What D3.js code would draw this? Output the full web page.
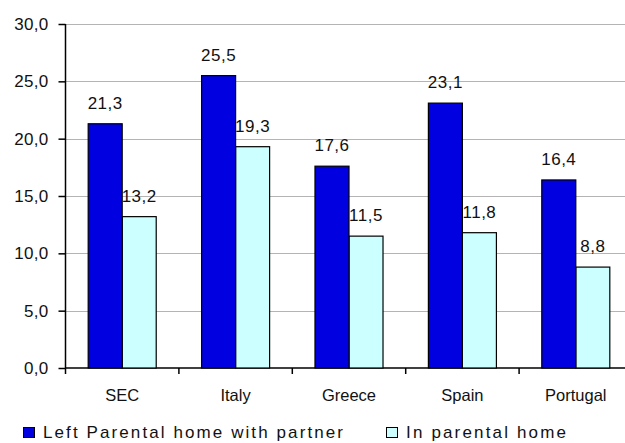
<!DOCTYPE html>
<html>
<head>
<meta charset="utf-8">
<script src="https://cdn.jsdelivr.net/npm/d3@7"></script>
<style>
  html, body { margin: 0; padding: 0; background: #fff; }
  svg { display: block; font-family: "Liberation Sans", Arial, sans-serif; }
</style>
</head>
<body>
<svg id="chart" width="625" height="443"></svg>
<script>
// Categories and the two series
const categories = ["SEC", "Italy", "Greece", "Spain", "Portugal"];
const leftWithPartner = [21.3, 25.5, 17.6, 23.1, 16.4];
const inParentalHome = [13.2, 19.3, 11.5, 11.8, 8.8];
const seriesNames = ["Left Parental home with partner", "In parental home"];
const seriesColors = ["#0000e0", "#ccffff"];
const yTickValues = [0, 5, 10, 15, 20, 25, 30];

const locale = d3.formatLocale({ decimal: ",", thousands: ".", grouping: [3], currency: ["", "€"] });
const fmt = locale.format(".1f");

const svg = d3.select("#chart");
const plot = { left: 65.5, right: 632.5, top: 24, bottom: 368 };

const x0 = d3.scaleBand().domain(categories).range([plot.left, plot.right]).paddingInner(0).paddingOuter(0);
const x1 = d3.scaleBand().domain([0, 1]).range([0, x0.bandwidth()]).paddingInner(0).paddingOuter(0.667);
const y = d3.scaleLinear().domain([0, 30]).range([plot.bottom, plot.top]);

// Gridlines
svg.append("g").selectAll("line").data(yTickValues.filter(v => v > 0)).join("line")
  .attr("x1", plot.left).attr("x2", 625)
  .attr("y1", d => Math.round(y(d)) + 0.5).attr("y2", d => Math.round(y(d)) + 0.5)
  .attr("stroke", "#b4b4b4").attr("stroke-width", 1);

// Y axis
const yAxis = d3.axisLeft(y).tickValues(yTickValues).tickFormat(fmt).tickSize(7).tickPadding(10);
const gy = svg.append("g").attr("transform", `translate(${plot.left},0)`).call(yAxis);
gy.select(".domain").attr("stroke", "#000").attr("stroke-width", 1.5).attr("d", `M0,${plot.top}V${plot.bottom}`);
gy.selectAll(".tick line").attr("stroke", "#000").attr("stroke-width", 1.5);
gy.selectAll(".tick text").attr("font-size", 17).attr("fill", "#111").attr("letter-spacing", 0.3)
  .attr("font-family", "'Liberation Sans', Arial, sans-serif");

// X axis: tick marks at category boundaries
const boundaries = categories.map(c => x0(c)).concat([plot.right]);
svg.append("line").attr("x1", plot.left).attr("x2", 625)
  .attr("y1", plot.bottom).attr("y2", plot.bottom).attr("stroke", "#000").attr("stroke-width", 1.5);
svg.append("g").selectAll("line").data(boundaries).join("line")
  .attr("x1", d => d).attr("x2", d => d)
  .attr("y1", plot.bottom).attr("y2", plot.bottom + 6)
  .attr("stroke", "#000").attr("stroke-width", 1.5);
svg.append("g").selectAll("text").data(categories).join("text")
  .attr("x", d => x0(d) + x0.bandwidth() / 2).attr("y", 401)
  .attr("text-anchor", "middle").attr("font-size", 16.5).attr("fill", "#111")
  .text(d => d);

const rows = categories.map((c, i) => ({ c, v: [leftWithPartner[i], inParentalHome[i]] }));

function drawSeries(s) {
  svg.append("g").selectAll("rect").data(rows).join("rect")
    .attr("x", d => x0(d.c) + x1(s))
    .attr("y", d => y(d.v[s]))
    .attr("width", x1.bandwidth())
    .attr("height", d => y(0) - y(d.v[s]))
    .attr("fill", seriesColors[s])
    .attr("stroke", "#000").attr("stroke-width", 1.2);
}
function drawLabels(s) {
  svg.append("g").selectAll("text").data(rows).join("text")
    .attr("x", d => x0(d.c) + x1(s) + x1.bandwidth() / 2)
    .attr("y", d => y(d.v[s]) - 15)
    .attr("text-anchor", "middle").attr("font-size", 17).attr("letter-spacing", 0.5).attr("fill", "#111")
    .text(d => fmt(d.v[s]));
}

// Second series and its labels first, so the first series' bars overlap those labels
drawSeries(1);
drawLabels(1);
drawSeries(0);
drawLabels(0);

// Legend
const legend = [
  { name: seriesNames[0], color: seriesColors[0], x: 23, len: 300 },
  { name: seriesNames[1], color: seriesColors[1], x: 386, len: 160 }
];
const lg = svg.append("g");
legend.forEach(l => {
  lg.append("rect").attr("x", l.x + 0.5).attr("y", 427.5).attr("width", 11).attr("height", 10)
    .attr("fill", l.color).attr("stroke", "#000").attr("stroke-width", 1);
  lg.append("text").attr("x", l.x + 20).attr("y", 438)
    .attr("font-size", 17).attr("fill", "#111")
    .attr("textLength", l.len).attr("lengthAdjust", "spacing")
    .text(l.name);
});
</script>
</body>
</html>
